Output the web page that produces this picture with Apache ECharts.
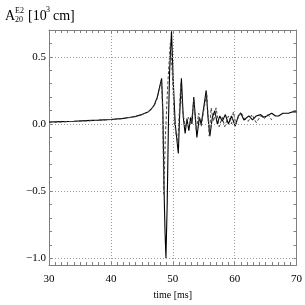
<!DOCTYPE html>
<html><head><meta charset="utf-8">
<script src="https://cdn.jsdelivr.net/npm/echarts@6/dist/echarts.min.js"></script>
<style>html,body{margin:0;padding:0;background:#fff}#c{width:305px;height:305px}</style>
</head><body><div id="c"></div>
<script>
const timeA = [30,32,34,36,38,40,42,43,44,45,46,46.5,47,47.5,47.9,48.2,48.4,48.6,48.75,48.9,49.1,49.3,49.5,49.8,50.1,50.4,50.9,51.1,51.4,51.7,52.0,52.3,52.6,52.9,53.1,53.4,53.9,54.3,54.6,55.0,55.4,55.7,56.0,56.4,56.8,57.2,57.6,58.0,58.5,59.0,59.5,60.1,60.6,61.0,61.5,62.3,62.9,63.5,64.2,64.7,65.2,66.0,66.6,67.1,67.8,68.7,69.3,70];
const valA  = [0.015,0.018,0.021,0.025,0.029,0.034,0.042,0.048,0.057,0.07,0.09,0.11,0.14,0.2,0.28,0.34,0.1,-0.5,-0.8,-1.0,-0.6,0.0,0.4,0.69,0.3,0.0,-0.22,0.05,0.34,0.05,-0.07,0.04,-0.05,0.05,0.0,0.2,-0.1,0.05,0.0,0.12,0.25,0.05,-0.09,0.05,0.1,0.0,0.06,0.02,0.07,0.0,0.06,-0.015,0.06,0.08,0.03,0.06,0.03,0.06,0.07,0.05,0.06,0.08,0.06,0.06,0.08,0.08,0.09,0.09];
const timeB = [30,34,38,42,44,46,47,47.5,47.9,48.2,48.4,48.55,48.8,49.2,49.6,49.9,50.3,50.8,51.3,51.6,52.0,52.5,53.0,53.4,53.8,54.2,54.6,55.0,55.5,55.9,56.2,56.6,57.0,57.5,58.0,58.4,59.0,59.5,59.8,60.2,60.6,61.0,61.6,62.2,62.8,63.5,64.2,64.8,65.4,66.0];
const valB  = [0.012,0.019,0.027,0.04,0.055,0.088,0.135,0.19,0.27,0.32,0.05,-0.53,-0.1,0.3,0.6,0.4,0.0,-0.15,0.3,0.1,-0.02,0.05,0.0,0.18,-0.05,0.08,-0.02,0.1,0.23,-0.09,0.12,0.02,0.12,-0.02,0.05,-0.02,0.06,0.0,0.09,0.0,0.05,0.09,0.04,0.02,0.07,0.01,0.06,0.04,0.07,0.03];
const yLabelValues = [-1.0,-0.5,0.0,0.5];
const yTickValues = [-1.0,-0.9,-0.8,-0.7,-0.6,-0.5,-0.4,-0.3,-0.2,-0.1,0.0,0.1,0.2,0.3,0.4,0.5,0.6,0.7];
const xGridValues = [40,50,60];

const serif = 'Liberation Serif';
const frame = '#808080';
const pairs = (t, v) => t.map((x, i) => [x, v[i]]);

const xCommon = {
  type: 'value', min: 30, max: 70, interval: 10,
  axisLine: {show: true, onZero: false, lineStyle: {color: frame, width: 1}},
  axisTick: {show: true, inside: true, length: 4, lineStyle: {color: frame}},
  minorTick: {show: true, splitNumber: 10, length: 3, lineStyle: {color: frame}},
  splitLine: {show: false}
};
const yCommon = {
  type: 'value', min: -1.05, max: 0.7,
  axisLine: {show: true, onZero: false, lineStyle: {color: frame, width: 1}},
  axisTick: {show: true, inside: true, length: 3, customValues: yTickValues, lineStyle: {color: frame}},
  splitLine: {show: false}
};

const chart = echarts.init(document.getElementById('c'), null, {renderer: 'canvas'});
chart.setOption({
  animation: false,
  backgroundColor: '#fff',
  grid: {left: 49, right: 7, top: 30, bottom: 35},
  xAxis: [
    Object.assign({}, xCommon, {
      position: 'bottom',
      name: 'time [ms]', nameLocation: 'middle', nameGap: 25,
      nameTextStyle: {fontFamily: serif, fontSize: 10, color: '#000'},
      axisLabel: {fontFamily: serif, fontSize: 11, color: '#000', margin: 9}
    }),
    Object.assign({}, xCommon, {position: 'top', axisLabel: {show: false}})
  ],
  yAxis: [
    Object.assign({}, yCommon, {
      position: 'left',
      axisLabel: {fontFamily: serif, fontSize: 11, color: '#000', margin: 3,
        customValues: yLabelValues,
        formatter: v => (v < 0 ? '\u2212' : '') + Math.abs(v).toFixed(1)}
    }),
    Object.assign({}, yCommon, {position: 'right', axisLabel: {show: false}})
  ],
  series: [
    {
      type: 'line', xAxisIndex: 0, yAxisIndex: 0, symbol: 'none', silent: true,
      data: [], z: 1,
      markLine: {
        silent: true, symbol: 'none', label: {show: false},
        lineStyle: {color: '#999', type: [1, 2], width: 1},
        data: yLabelValues.map(v => ({yAxis: v})).concat(xGridValues.map(v => ({xAxis: v})))
      }
    },
    {
      type: 'line', xAxisIndex: 0, yAxisIndex: 0, symbol: 'none', z: 3,
      lineStyle: {color: '#000', width: 1.1},
      data: pairs(timeA, valA)
    },
    {
      type: 'line', xAxisIndex: 0, yAxisIndex: 0, symbol: 'none', z: 4,
      lineStyle: {color: '#444', width: 1, type: [3, 2]},
      data: pairs(timeB, valB)
    }
  ],
  graphic: [
    {type: 'text', left: 5, top: 9, style: {text: 'A', font: '14px "Liberation Serif"', fill: '#000'}},
    {type: 'text', left: 15, top: 7, style: {text: 'E2', font: '8px "Liberation Serif"', fill: '#000'}},
    {type: 'text', left: 15, top: 16, style: {text: '20', font: '8px "Liberation Serif"', fill: '#000'}},
    {type: 'text', left: 28, top: 9, style: {text: '[10', font: '14px "Liberation Serif"', fill: '#000'}},
    {type: 'text', left: 46, top: 6, style: {text: '3', font: '8px "Liberation Serif"', fill: '#000'}},
    {type: 'text', left: 53, top: 9, style: {text: 'cm]', font: '14px "Liberation Serif"', fill: '#000'}}
  ]
});
</script></body></html>
